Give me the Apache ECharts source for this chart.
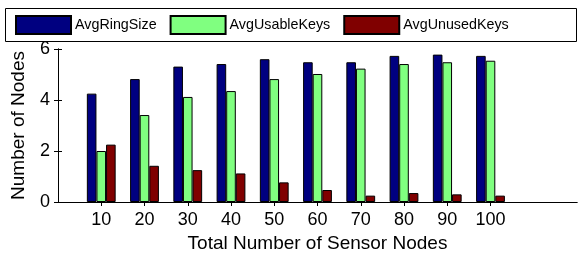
<!DOCTYPE html>
<html>
<head>
<meta charset="utf-8">
<script src="https://cdn.jsdelivr.net/npm/echarts@6/dist/echarts.min.js"></script>
<style>
  html, body { margin: 0; padding: 0; background: #fff; }
  #chart { width: 578px; height: 258px; }
</style>
</head>
<body>
<div id="chart"></div>
<script>
// sensor node counts (x)
const nodeCounts = [10, 20, 30, 40, 50, 60, 70, 80, 90, 100];
// bar values
const avgRingSize = [4.25, 4.82, 5.31, 5.41, 5.6, 5.48, 5.48, 5.73, 5.78, 5.73];
const avgUsableKeys = [2.0, 3.41, 4.12, 4.35, 4.82, 5.02, 5.23, 5.41, 5.48, 5.54];
const avgUnusedKeys = [2.25, 1.42, 1.25, 1.12, 0.77, 0.47, 0.25, 0.35, 0.3, 0.25];
const yTicks = [0, 2, 4, 6];

const FONT = 'Liberation Sans';

const textStyle = {
  color: '#000',
  fontFamily: FONT,
  fontSize: 18
};

// 构造柱状系列
const makeBar = (name, values, color) => ({
  name,
  type: 'bar',
  barWidth: 9.6,
  barGap: '0%',
  data: values.map((v, i) => [nodeCounts[i], v]),
  itemStyle: {
    color,
    borderColor: '#000',
    borderWidth: 1
  }
});

// 框线上的刻度（上/右）
const frameX = {
  type: 'value',
  position: 'top',
  min: 0,
  max: 120,
  axisLine: { show: true, lineStyle: { color: '#000', width: 1 } },
  axisTick: { show: true, inside: true, length: 4, customValues: nodeCounts, lineStyle: { color: '#000' } },
  axisLabel: { show: false },
  splitLine: { show: false }
};

const frameY = {
  type: 'value',
  position: 'right',
  min: 0,
  max: 6,
  interval: 2,
  axisLine: { show: true, lineStyle: { color: '#000', width: 1 } },
  axisTick: { show: true, inside: true, length: 4, lineStyle: { color: '#000' } },
  axisLabel: { show: false },
  splitLine: { show: false }
};

const chart = echarts.init(document.getElementById('chart'), null, { renderer: 'canvas' });

const option = {
  animation: false,
  backgroundColor: '#fff',
  // 图例外框
  graphic: [
    {
      type: 'rect',
      z: 3,
      shape: { x: 5.5, y: 8.5, width: 571, height: 33 },
      style: { fill: '#fff', stroke: '#000', lineWidth: 1 }
    }
  ],
  legend: {
    left: 15,
    top: 15,
    z: 4,
    orient: 'horizontal',
    icon: 'rect',
    itemWidth: 55,
    itemHeight: 18,
    itemGap: 13,
    padding: 0,
    textStyle: { color: '#000', fontFamily: FONT, fontSize: 14.3, padding: [0, 0, 0, -1] },
    data: ['AvgRingSize', 'AvgUsableKeys', 'AvgUnusedKeys']
  },
  grid: {
    left: 58,
    right: 1,
    top: 49,
    bottom: 56,
    containLabel: false
  },
  xAxis: [
    {
      type: 'value',
      position: 'bottom',
      min: 0,
      max: 120,
      name: 'Total Number of Sensor Nodes',
      nameLocation: 'middle',
      nameGap: 32,
      nameTextStyle: { ...textStyle, fontSize: 19 },
      axisLine: { show: true, onZero: false, lineStyle: { color: '#000', width: 1 } },
      axisTick: { show: true, inside: true, length: 4, customValues: nodeCounts, lineStyle: { color: '#000' } },
      axisLabel: { ...textStyle, margin: 9, customValues: nodeCounts },
      splitLine: { show: false }
    },
    frameX
  ],
  yAxis: [
    {
      type: 'value',
      position: 'left',
      min: 0,
      max: 6,
      interval: 2,
      name: 'Number of Nodes',
      nameLocation: 'middle',
      nameGap: 30,
      nameTextStyle: { ...textStyle, fontSize: 19 },
      axisLine: { show: true, lineStyle: { color: '#000', width: 1 } },
      axisTick: { show: true, inside: true, length: 4, lineStyle: { color: '#000' } },
      axisLabel: { ...textStyle, margin: 8, customValues: yTicks },
      splitLine: { show: false }
    },
    frameY
  ],
  series: [
    makeBar('AvgRingSize', avgRingSize, '#000080'),
    makeBar('AvgUsableKeys', avgUsableKeys, '#80FF80'),
    makeBar('AvgUnusedKeys', avgUnusedKeys, '#800000')
  ]
};

chart.setOption(option);
</script>
</body>
</html>
